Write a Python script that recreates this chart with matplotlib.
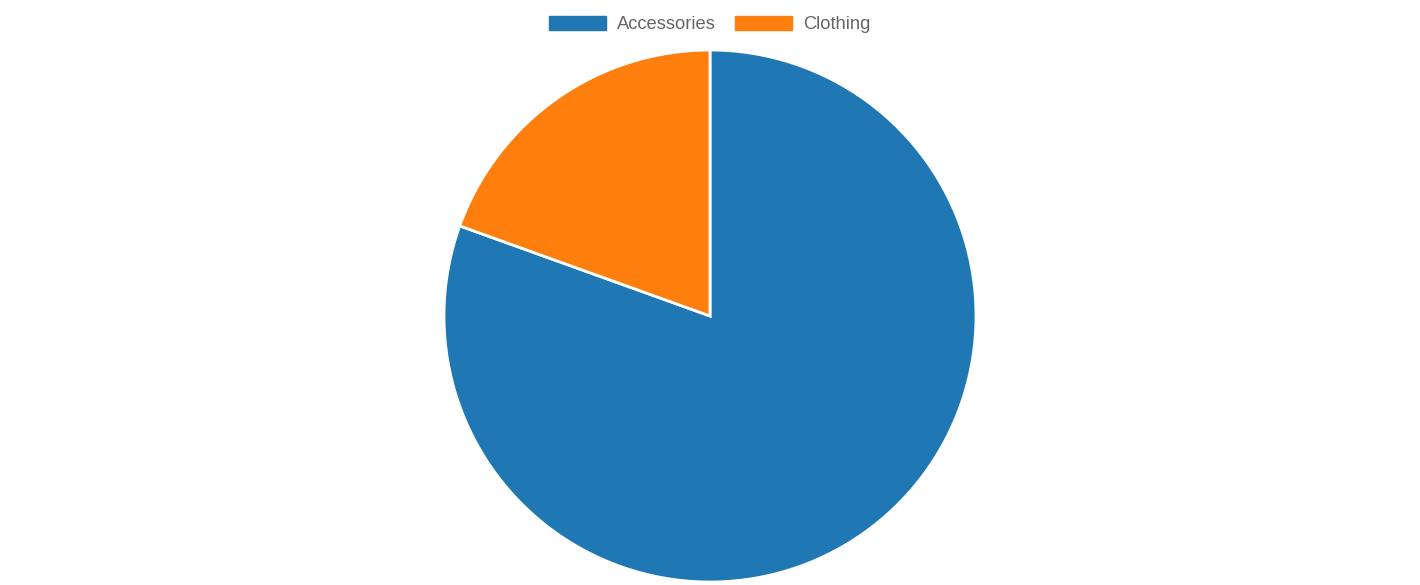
import matplotlib.pyplot as plt
from matplotlib.patches import Patch

plt.rcParams['font.family'] = ['Liberation Sans', 'DejaVu Sans']

categories = ['Accessories', 'Clothing']
shares = [80.5, 19.5]
colors = ['#1f77b4', '#ff7f0e']

fig = plt.figure(figsize=(14.2, 5.85), dpi=100)
W, H = 1420, 585
cx, cy, r = 710, 316, 266
ax = fig.add_axes([(cx - r) / W, (H - cy - r) / H, 2 * r / W, 2 * r / H])

ax.pie(shares, colors=colors, startangle=90, counterclock=False,
       wedgeprops={'edgecolor': 'white', 'linewidth': 2},
       radius=1.0)
ax.set_xlim(-1, 1)
ax.set_ylim(-1, 1)
ax.set_aspect('equal')
ax.axis('off')

handles = [Patch(facecolor=c, edgecolor=c) for c in colors]
leg = fig.legend(handles, categories, loc='center', bbox_to_anchor=(710 / W, 1 - 24.5 / H),
                 ncol=2, frameon=False, fontsize=13.2, handlelength=3.1,
                 handleheight=0.82, handletextpad=0.6, columnspacing=1.05,
                 borderaxespad=0, borderpad=0)
for t in leg.get_texts():
    t.set_color('#666666')

fig.savefig('out.png', dpi=100)
